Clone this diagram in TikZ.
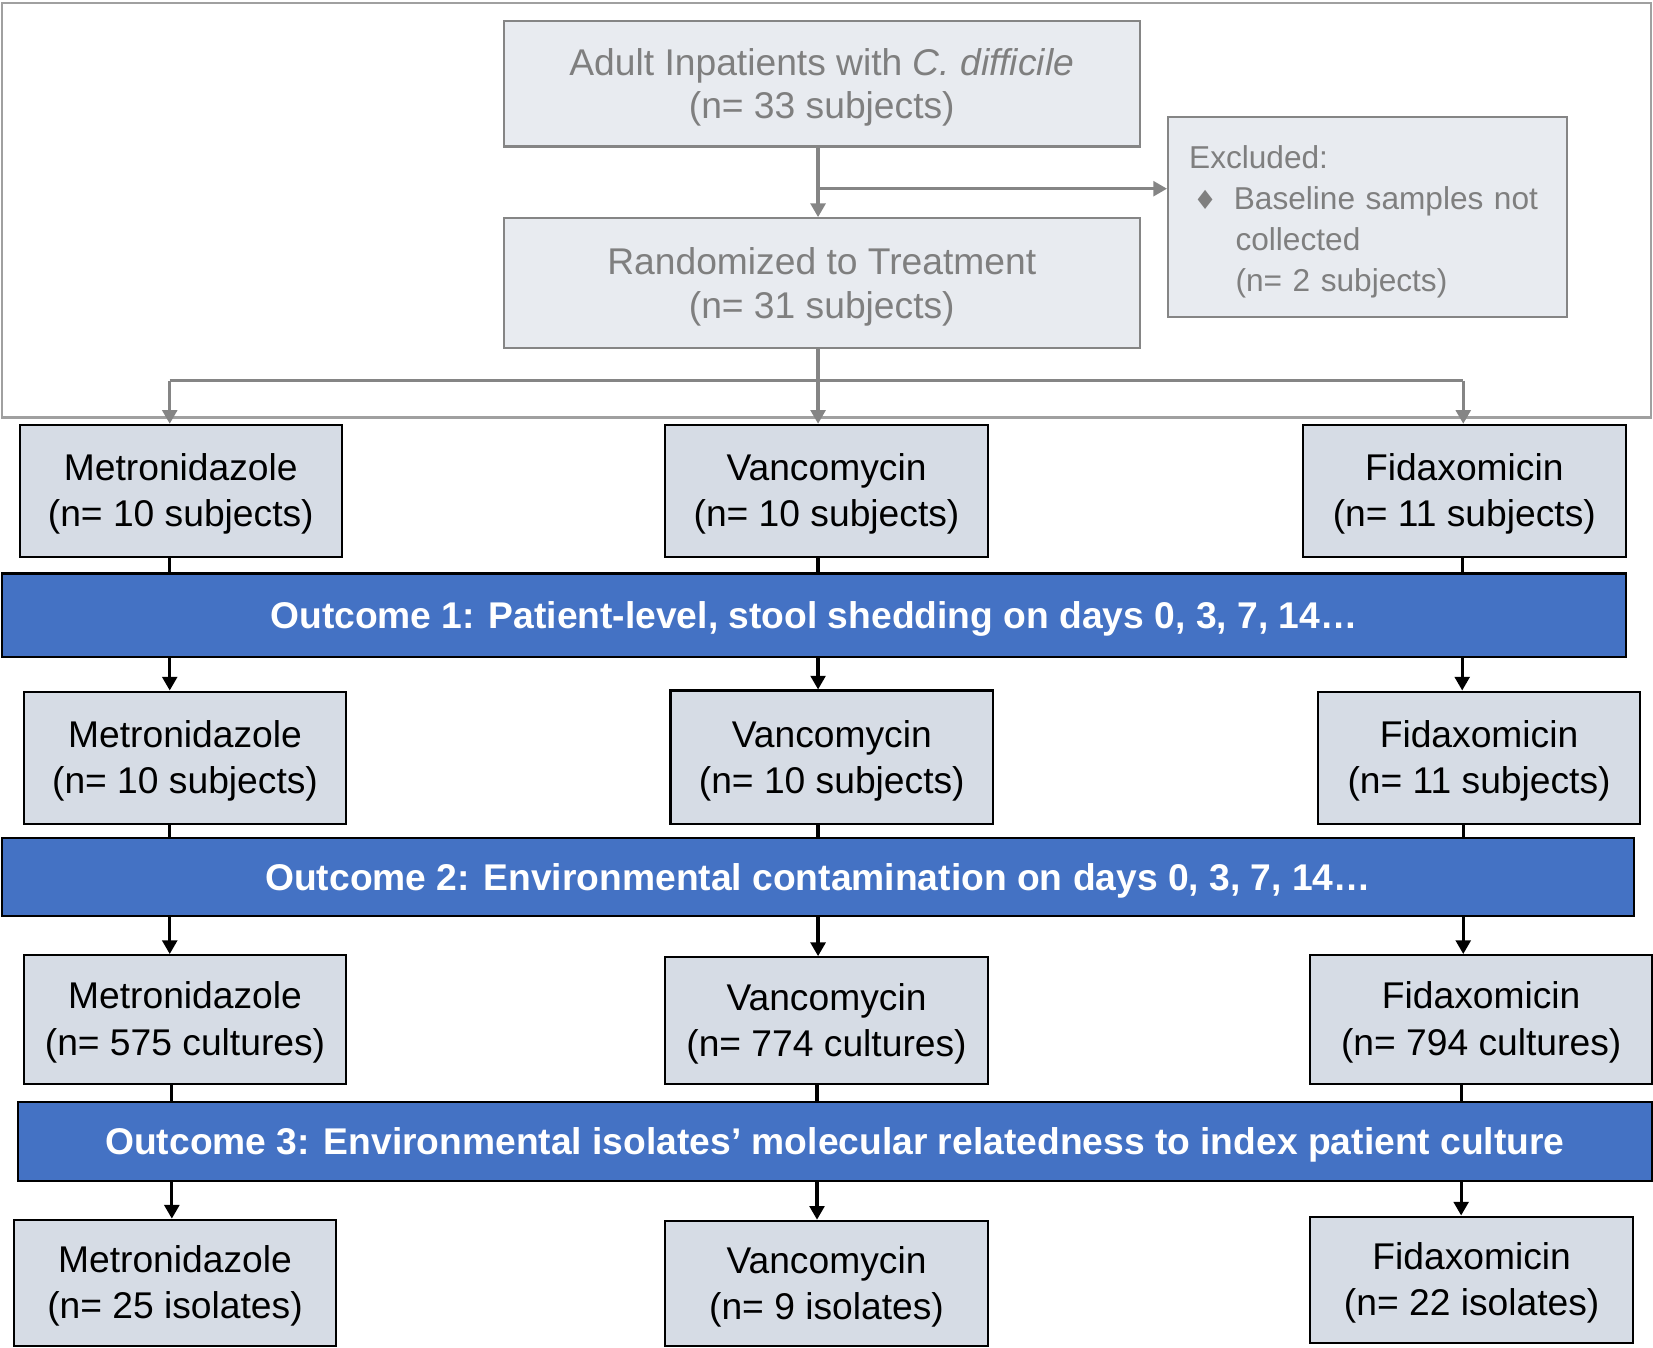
\documentclass[tikz,border=0pt]{standalone}
\usepackage{fontspec}
\setmainfont{Liberation Sans}
\newfontfamily\symfont{DejaVu Sans}
\usetikzlibrary{arrows.meta}
\definecolor{gtext}{HTML}{7F7F7F}
\definecolor{gline}{HTML}{858585}
\definecolor{gframe}{HTML}{A0A0A0}
\definecolor{gfill}{HTML}{E8EBF0}
\definecolor{bfill}{HTML}{D6DCE5}
\definecolor{barblue}{HTML}{4472C4}
\tikzset{
  greybox/.style={draw=gline, line width=1pt, fill=gfill, text=gtext, align=center, inner sep=0pt,
    text depth=0pt, font=\fontsize{17.65}{20.5}\selectfont},
  exclbox/.style={draw=gline, line width=1pt, fill=gfill, text=gtext, align=left, inner ysep=0pt,
    inner xsep=10pt, font=\fontsize{15}{19.5}\selectfont},
  drugbox/.style={draw=black, line width=1pt, fill=bfill, text=black, align=center, inner sep=0pt,
    text depth=0.7pt, minimum width=152.5pt, font=\fontsize{17.65}{22}\selectfont},
  outbar/.style={draw=black, line width=1pt, fill=barblue, text=white, align=center, inner sep=0pt,
    text depth=0pt, font=\fontsize{17.65}{22}\selectfont\bfseries},
  gconn/.style={draw=gline, line width=1.5pt},
  garrow/.style={gconn, -{Triangle[length=6.5pt, width=7pt]}},
  bconn/.style={draw=black, line width=1.5pt},
  barrow/.style={bconn, -{Triangle[length=6.5pt, width=7pt]}}
}
\begin{document}
\begin{tikzpicture}[x=0.5pt, y=-0.5pt]
\useasboundingbox (0,0) rectangle (1568,1278);
% frame
\draw[gframe, line width=1pt] (2,3) rectangle (1566,396);

% column coordinates
\coordinate (cL) at (161,0);
\coordinate (cM) at (776,0);
\coordinate (cR) at (1388,0);
\coordinate (br) at (776,179);
\coordinate (sp) at (776,361);

% top part
\node[greybox, minimum width=301.5pt, minimum height=59.5pt] (top) at (779.5,79.5)
  {Adult Inpatients with \textit{C. difficile}\\(n= 33 subjects)};
\node[greybox, minimum width=301.5pt, minimum height=61.5pt] (rand) at (779.5,268.5)
  {Randomized to Treatment\\(n= 31 subjects)};
\node[exclbox, text width=169pt, minimum height=95pt] (excl) at (1297,206)
  {\rule{0pt}{15pt}Excluded:\\\hspace*{2pt}{\symfont\fontsize{12.5}{19.5}\selectfont ♦}\hspace*{8pt}Baseline samples not\\\hspace*{22pt}collected\\\hspace*{22pt}(n= 2 subjects)};

% row 1
\node[drugbox, minimum height=62.5pt] (m1) at (171.5,465.5) {Metronidazole\\(n= 10 subjects)};
\node[drugbox, minimum width=153pt, minimum height=62.5pt] (v1) at (784,465.5) {Vancomycin\\(n= 10 subjects)};
\node[drugbox, minimum width=153pt, minimum height=62.5pt] (f1) at (1389,465.5) {Fidaxomicin\\(n= 11 subjects)};
\node[outbar, minimum width=770pt, minimum height=39.5pt] (bar1) at (772,583.5)
  {Outcome 1: Patient-level, stool shedding on days 0, 3, 7, 14…};

% row 2
\node[drugbox, minimum height=63pt] (m2) at (175.5,719) {Metronidazole\\(n= 10 subjects)};
\node[drugbox, minimum width=153pt, minimum height=63.5pt] (v2) at (789,718.5) {Vancomycin\\(n= 10 subjects)};
\node[drugbox, minimum width=153pt, minimum height=63pt] (f2) at (1403,719) {Fidaxomicin\\(n= 11 subjects)};
\node[outbar, minimum width=774pt, minimum height=37pt] (bar2) at (776,832)
  {Outcome 2: Environmental contamination on days 0, 3, 7, 14…};

% row 3
\node[drugbox, minimum height=61pt] (m3) at (175.5,967) {Metronidazole\\(n= 575 cultures)};
\node[drugbox, minimum width=153pt, minimum height=60pt] (v3) at (784,968) {Vancomycin\\(n= 774 cultures)};
\node[drugbox, minimum width=162pt, minimum height=61pt] (f3) at (1405,967) {Fidaxomicin\\(n= 794 cultures)};
\node[outbar, minimum width=775pt, minimum height=37.5pt] (bar3) at (792,1082.5)
  {Outcome 3: Environmental isolates’ molecular relatedness to index patient culture};

% row 4
\node[drugbox, minimum width=153pt, minimum height=60pt] (m4) at (166,1217) {Metronidazole\\(n= 25 isolates)};
\node[drugbox, minimum width=153pt, minimum height=59.5pt] (v4) at (784,1217.5) {Vancomycin\\(n= 9 isolates)};
\node[drugbox, minimum width=153pt, minimum height=60pt] (f4) at (1396,1214) {Fidaxomicin\\(n= 22 isolates)};

% grey connectors
\draw[garrow] (top.south -| cM) -- (rand.north -| cM);
\draw[garrow] (br) -- (br -| excl.west);
\draw[garrow] (rand.south -| cM) -- (v1.north -| cM);
\draw[gconn] (cL |- sp) -- (cR |- sp);
\draw[garrow] (cL |- sp) -- (m1.north -| cL);
\draw[garrow] (cR |- sp) -- (f1.north -| cR);

% black connectors
\draw[bconn] (m1.south -| cL) -- (bar1.north -| cL);
\draw[bconn] (v1.south -| cM) -- (bar1.north -| cM);
\draw[bconn] (f1.south -| 1387,0) -- (bar1.north -| 1387,0);
\draw[barrow] (bar1.south -| cL) -- (m2.north -| cL);
\draw[barrow] (bar1.south -| cM) -- (v2.north -| cM);
\draw[barrow] (bar1.south -| 1387,0) -- (f2.north -| 1387,0);

\draw[bconn] (m2.south -| cL) -- (bar2.north -| cL);
\draw[bconn] (v2.south -| cM) -- (bar2.north -| cM);
\draw[bconn] (f2.south -| cR) -- (bar2.north -| cR);
\draw[barrow] (bar2.south -| cL) -- (m3.north -| cL);
\draw[barrow] (bar2.south -| cM) -- (v3.north -| cM);
\draw[barrow] (bar2.south -| cR) -- (f3.north -| cR);

\draw[bconn] (m3.south -| 163,0) -- (bar3.north -| 163,0);
\draw[bconn] (v3.south -| 775,0) -- (bar3.north -| 775,0);
\draw[bconn] (f3.south -| 1386,0) -- (bar3.north -| 1386,0);
\draw[barrow] (bar3.south -| 163,0) -- (m4.north -| 163,0);
\draw[barrow] (bar3.south -| 775,0) -- (v4.north -| 775,0);
\draw[barrow] (bar3.south -| 1386,0) -- (f4.north -| 1386,0);
\end{tikzpicture}
\end{document}
